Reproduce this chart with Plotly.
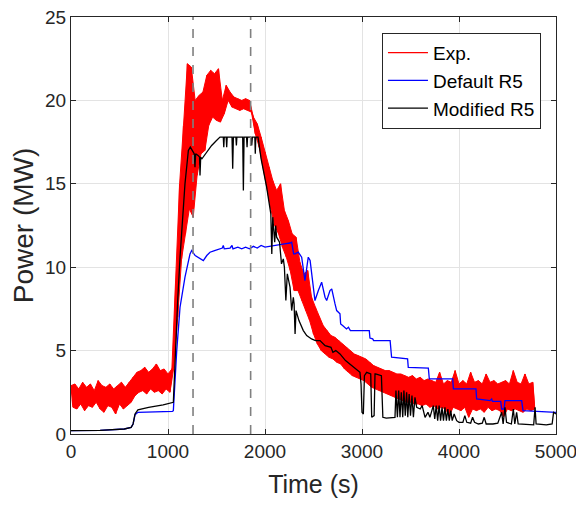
import plotly.graph_objects as go

# ---------------- data ----------------
# Experimental power, sampled every 20 s from 0 s to 4780 s
# (values alternate between the upper and lower edge of the noise band)
red_step = 20
red_power = [
    # 0 - 580
    2.9, 1.6, 3.0, 1.5, 2.7, 1.8, 3.1, 1.4, 2.8, 1.7,
    3.0, 1.6, 2.6, 1.9, 3.2, 1.5, 2.9, 1.3, 2.8, 1.7,
    3.0, 1.6, 2.7, 1.2, 2.9, 1.8, 3.1, 1.5, 2.8, 1.7,
    # 600 - 700
    3.1, 1.9, 3.4, 2.3, 3.7, 2.5,
    # 720 - 1040
    3.8, 2.6, 4.0, 2.4, 3.7, 2.7, 3.9, 2.5, 4.2, 2.6,
    3.8, 2.4, 3.9, 2.7, 3.6, 2.5, 3.9,
    # 1060 - 1180
    4.0, 9.0, 7.0, 15.0, 10.5, 18.5, 12.0,
    # 1200 - 1380
    22.2, 13.5, 22.0, 13.0, 20.0, 15.5, 20.3, 16.8, 20.5, 17.0,
    # 1400 - 1580
    21.5, 18.5, 21.8, 19.0, 21.6, 18.8, 21.9, 18.7, 20.0, 19.2,
    # 1600 - 1780
    20.9, 20.0, 20.5, 19.6, 20.2, 19.5, 20.1, 19.4, 20.0, 19.5,
    # 1800 - 1860
    20.1, 19.4, 20.0, 19.3,
    # 1880 - 2060
    19.0, 18.0, 18.6, 17.2, 17.8, 16.0, 16.9, 14.8, 16.0, 13.5,
    # 2080 - 2260
    15.2, 12.5, 14.6, 12.0, 15.0, 11.2, 13.4, 10.6, 12.8, 9.8,
    # 2280 - 2460
    12.0, 8.6, 11.8, 8.6, 10.3, 8.0, 9.6, 7.4, 9.8, 6.8,
    # 2480 - 2660
    8.2, 6.0, 7.6, 5.4, 7.0, 5.0, 6.5, 4.8, 6.2, 4.6,
    # 2680 - 2860
    5.9, 4.5, 5.8, 4.3, 5.6, 4.2, 5.4, 3.9, 5.2, 3.7,
    # 2880 - 3060
    5.0, 3.5, 4.8, 3.4, 4.7, 3.3, 4.6, 3.2, 4.5, 3.0,
    # 3080 - 3260
    4.3, 2.8, 4.1, 2.7, 4.0, 2.6, 3.9, 2.5, 3.8, 2.4,
    # 3280 - 3460
    3.8, 2.3, 3.7, 2.2, 3.6, 2.1, 3.6, 2.0, 3.5, 1.9,
    # 3480 - 3660
    3.4, 1.9, 3.5, 1.8, 3.3, 1.8, 3.4, 1.7, 3.2, 1.8,
    # 3680 - 3860
    3.3, 1.6, 3.2, 1.7, 3.1, 1.5, 3.7, 1.6, 3.0, 1.5,
    # 3880 - 4060
    3.2, 1.1, 3.1, 1.6, 3.8, 1.5, 3.0, 1.4, 3.2, 1.6,
    # 4080 - 4260
    3.0, 1.0, 3.7, 1.5, 3.1, 1.4, 3.2, 1.5, 3.0, 1.3,
    # 4280 - 4460
    3.6, 1.6, 3.1, 1.4, 3.2, 1.5, 3.0, 1.4, 3.1, 1.05,
    # 4480 - 4660
    3.2, 1.5, 3.0, 1.4, 3.8, 1.5, 3.1, 1.4, 3.0, 1.3,
    # 4680 - 4780
    3.6, 1.5, 3.0, 1.4, 3.1, 1.5,
]
red_time = [red_step * i for i in range(len(red_power))]

# Default R5 simulation
blue_time = [0, 300, 550, 620, 640, 660, 690, 1045, 1055, 1090, 1124, 1175, 1227,
             1244, 1280, 1330, 1364, 1400, 1433, 1480, 1536, 1560, 1570, 1580,
             1640, 1660, 1670, 1720, 1760, 1800, 1840, 1880, 1920, 1960, 2000,
             2086, 2150, 2200, 2258, 2275, 2295, 2309, 2343, 2378, 2412, 2446,
             2465, 2481, 2515, 2550, 2584, 2619, 2636, 2670, 2688, 2722, 2739,
             2773, 2780, 2800, 2840, 2860, 2880, 3075, 3082, 3110, 3120, 3290,
             3296, 3305, 3470, 3477, 3684, 3694, 3935, 3942, 4175, 4182, 4320,
             4337, 4345, 4430, 4440, 4465, 4474, 4646, 4660, 5000]
blue_power = [0.2, 0.22, 0.3, 0.4, 0.6, 1.15, 1.3, 1.35, 1.4, 5.0, 7.6, 9.4, 10.8,
              11.0, 10.7, 10.5, 10.4, 10.7, 10.9, 11.0, 11.1, 11.15, 11.3, 11.1,
              11.15, 11.3, 11.1, 11.2, 11.1, 11.2, 11.1, 11.25, 11.15, 11.3, 11.2,
              11.3, 11.35, 11.4, 11.45, 11.5, 10.8, 10.8, 10.9, 10.6, 9.2, 10.6,
              10.4, 9.6, 8.0, 8.6, 9.1, 8.2, 8.0, 8.6, 8.7, 7.8, 7.4,
              7.2, 6.6, 6.5, 6.3, 6.4, 6.2, 6.2, 5.75, 5.7, 5.6, 5.6,
              5.1, 4.6, 4.5, 4.0, 3.95, 3.3, 3.3, 2.7, 2.7, 2.1, 2.0,
              2.1, 1.95, 1.95, 1.5, 1.5, 2.0, 2.0, 1.4, 1.3]

# Modified R5 simulation
black_time = [0, 300, 550, 620, 640, 660, 690, 800, 950, 1040, 1055, 1100, 1124,
              1175, 1210, 1230, 1250, 1270, 1278, 1285, 1310, 1325, 1330, 1337,
              1350, 1400, 1450, 1500, 1536, 1570, 1575, 1580, 1600, 1605, 1610,
              1660, 1667, 1674, 1700, 1705, 1710, 1770, 1777, 1784, 1810, 1815,
              1820, 1855, 1863, 1870, 1895, 1900, 1905, 1928, 1960, 2017, 2050,
              2060, 2070, 2080, 2100, 2110, 2120, 2150, 2170, 2189, 2200, 2215,
              2230, 2258, 2275, 2292, 2300, 2310, 2320, 2350, 2395, 2430, 2480,
              2520, 2567, 2620, 2680, 2700, 2730, 2773, 2830, 2870, 2910, 2979,
              2990, 3000, 3014, 3025, 3048, 3090, 3100, 3125, 3134, 3140, 3200,
              3215, 3250, 3340, 3350, 3365, 3378, 3392, 3405, 3420, 3432, 3446,
              3460, 3472, 3486, 3500, 3515, 3530, 3546, 3564, 3600, 3620, 3650,
              3680, 3700, 3735, 3750, 3765, 3780, 3795, 3810, 3825, 3840, 3855,
              3870, 3885, 3900, 3915, 3930, 3950, 3976, 4000, 4040, 4060, 4080,
              4120, 4140, 4160, 4200, 4240, 4260, 4280, 4350, 4400, 4440, 4455,
              4474, 4490, 4540, 4560, 4575, 4594, 4610, 4700, 4770, 4784, 4795,
              4900, 4960, 4975, 5000]
black_power = [0.2, 0.22, 0.3, 0.4, 0.6, 1.2, 1.45, 1.6, 1.75, 1.85, 1.9, 8.0, 10.6,
               15.0, 17.0, 17.2, 17.0, 16.8, 16.0, 16.8, 16.7, 16.6, 15.5, 16.6,
               16.5, 16.9, 17.3, 17.6, 17.8, 17.8, 17.2, 17.8, 17.8, 17.2, 17.8,
               17.8, 15.9, 17.8, 17.8, 17.3, 17.8, 17.8, 14.6, 17.8, 17.8, 17.2,
               17.8, 17.8, 17.3, 17.8, 17.8, 16.8, 17.8, 17.8, 16.5, 14.8, 13.5,
               13.2, 10.8, 13.0, 11.5, 12.5, 11.8, 11.5, 10.2, 10.5, 10.0, 8.0,
               9.6, 8.8, 7.4, 8.2, 7.8, 6.0, 7.4, 6.8, 6.2, 5.9, 5.7,
               5.6, 5.6, 5.3, 5.2, 4.9, 5.0, 4.8, 4.4, 4.2, 4.0, 3.7,
               3.0, 1.3, 1.2, 3.5, 3.7, 3.6, 1.0, 1.1, 3.6, 3.6, 3.5,
               1.0, 0.95, 1.0, 2.6, 1.0, 2.6, 1.0, 2.5, 1.0, 2.6, 1.1,
               2.5, 1.0, 2.4, 1.1, 2.3, 1.0, 2.2, 1.6, 1.5, 1.7, 1.0,
               1.3, 1.0, 1.7, 0.9, 1.7, 0.8, 1.7, 0.8, 1.6, 0.8, 1.6,
               0.8, 1.5, 0.8, 1.4, 0.8, 1.2, 0.8, 0.7, 0.7, 1.1, 0.7,
               0.65, 1.0, 0.7, 0.6, 0.65, 1.0, 0.6, 0.6, 0.65, 1.3, 0.6,
               1.6, 0.7, 0.6, 1.5, 0.6, 1.3, 0.6, 0.55, 0.55, 1.6, 0.6,
               0.55, 0.6, 1.3, 1.2]

# Marked time instants (dashed vertical lines)
marker_times = [1258, 1852]

x_ticks = [0, 1000, 2000, 3000, 4000, 5000]
y_ticks = [0, 5, 10, 15, 20, 25]

# ---------------- figure ----------------
FONT = "Liberation Sans, Arial, sans-serif"
AX = "#262626"
RED = "#ff0000"

# noise band of the experimental signal: upper edge forward, lower edge back
band_hi_t, band_hi = red_time[0::2], red_power[0::2]
band_lo_t, band_lo = red_time[1::2], red_power[1::2]

fig = go.Figure()
fig.add_trace(go.Scatter(x=band_hi_t + band_lo_t[::-1], y=band_hi + band_lo[::-1],
                         mode="lines", fill="toself", fillcolor=RED,
                         line=dict(color=RED, width=1.0), showlegend=False,
                         hoverinfo="skip"))
fig.add_trace(go.Scatter(x=red_time, y=red_power, mode="lines", name="Exp.",
                         line=dict(color=RED, width=1.3)))
fig.add_trace(go.Scatter(x=blue_time, y=blue_power, mode="lines", name="Default R5",
                         line=dict(color="#0000ff", width=1.3)))
fig.add_trace(go.Scatter(x=black_time, y=black_power, mode="lines", name="Modified R5",
                         line=dict(color="#000000", width=1.3)))

for t in marker_times:
    fig.add_shape(type="line", xref="x", yref="paper", x0=t, x1=t, y0=0, y1=1,
                  line=dict(color="#808080", width=1.6, dash="dash"))

axis_common = dict(showline=True, linecolor=AX, linewidth=1, mirror="ticks",
                   ticks="inside", ticklen=5, tickcolor=AX, automargin=False,
                   ticklabeloverflow="allow",
                   showgrid=True, gridcolor="#e3e3e3", gridwidth=1,
                   zeroline=False, tickfont=dict(family=FONT, size=19, color=AX))

fig.update_xaxes(range=[0, 5000], tickvals=x_ticks,
                 ticktext=[str(v) for v in x_ticks],
                 title=dict(text="Time (s)", font=dict(family=FONT, size=25, color=AX),
                            standoff=14),
                 **axis_common)
fig.update_yaxes(range=[0, 25], tickvals=y_ticks,
                 ticktext=[str(v) for v in y_ticks],
                 title=dict(text="Power (MW)", font=dict(family=FONT, size=28, color=AX),
                            standoff=4),
                 **axis_common)

# the page body adds an 8 px offset, so the figure is 8 px smaller than the window
fig.update_layout(
    width=576, height=500,
    margin=dict(l=63, r=28, t=9, b=74),
    paper_bgcolor="white", plot_bgcolor="white",
    font=dict(family=FONT, color=AX),
    showlegend=True,
    legend=dict(x=0.969, y=0.962, xanchor="right", yanchor="top",
                bgcolor="white", bordercolor=AX, borderwidth=1,
                font=dict(family=FONT, size=19, color="#000000"),
                tracegroupgap=0, itemwidth=40),
)

fig.write_html("out.html")
